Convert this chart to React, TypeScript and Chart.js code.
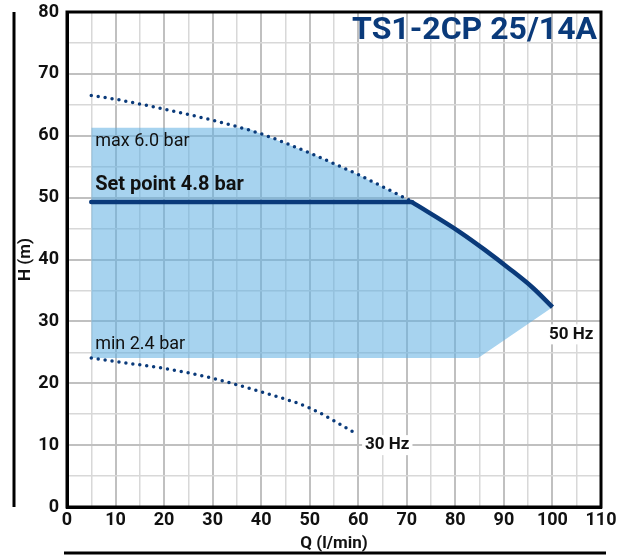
import React, { useEffect, useRef } from 'react';
import { Chart, registerables } from 'chart.js';

Chart.register(...registerables);

// ---- data (Q in l/min, H in m) ----
const maxCurveQ = [5, 10, 20, 30, 40, 50, 60, 71];
const maxCurveH = [66.5, 65.9, 64.3, 62.5, 60.3, 57.2, 53.7, 49.4];

const setPointQ = [5, 71];
const setPointH = [49.3, 49.3];

const curve50Q = [71, 81, 86, 91, 96, 100];
const curve50H = [49.3, 44.4, 41.6, 38.6, 35.4, 32.3];

const minCurveQ = [5, 10, 20, 30, 40, 50, 59.5];
const minCurveH = [24.1, 23.5, 22.4, 20.8, 18.6, 16.0, 11.9];

// shaded operating range: upper and lower boundaries
const rangeTopQ = [5, 37, 40, 50, 60, 71, 81, 86, 91, 96, 100];
const rangeTopH = [61.3, 61.3, 60.3, 57.2, 53.7, 49.3, 44.4, 41.6, 38.6, 35.4, 32.3];
const rangeBottomQ = [5, 84.7, 100];
const rangeBottomH = [24.1, 24.1, 32.3];

const xMin = 0, xMax = 110, yMin = 0, yMax = 80;
const gridStep = 5, labelStep = 10;

const chartTitle = 'TS1-2CP 25/14A';
const xTitle = 'Q (l/min)';
const yTitle = 'H (m)';
const labelMax = 'max 6.0 bar';
const labelSet = 'Set point 4.8 bar';
const labelMin = 'min 2.4 bar';
const label50 = '50 Hz';
const label30 = '30 Hz';

const NAVY = '#0a3a7a';
const FONT = 'Roboto';

const pts = (q: number[], h: number[]) => q.map((v, i) => ({ x: v, y: h[i] }));

const decor = {
  id: 'decor',
  afterDatasetsDraw(chart: any) {
    const ctx = chart.ctx;
    const a = chart.chartArea;
    const px = (v: number) => chart.scales.x.getPixelForValue(v);
    const py = (v: number) => chart.scales.y.getPixelForValue(v);
    ctx.save();
    ctx.setLineDash([]);
    ctx.textBaseline = 'middle';
    ctx.textAlign = 'left';
    ctx.fillStyle = '#111111';
    ctx.font = '18px ' + FONT;
    ctx.fillText(labelMax, px(5.8), py(59.0));
    ctx.fillText(labelMin, px(5.8), py(26.2));
    ctx.font = 'bold 20px ' + FONT;
    ctx.fillText(labelSet, px(5.8), py(52.0));
    ctx.font = 'bold 17px ' + FONT;
    [[label50, 99.3, 27.9], [label30, 61.4, 10.0]].forEach(([t, q, h]: any) => {
      const lx = px(q), ly = py(h);
      const w = ctx.measureText(t).width;
      ctx.fillStyle = '#ffffff';
      ctx.fillRect(lx - 3, ly - 10, w + 6, 20);
      ctx.fillStyle = '#111111';
      ctx.fillText(t, lx, ly);
    });
    ctx.font = 'bold 32px ' + FONT;
    ctx.fillStyle = NAVY;
    ctx.textAlign = 'right';
    ctx.fillText(chartTitle, a.right - 4, a.top + 19);
    ctx.restore();
  },
  afterDraw(chart: any) {
    const ctx = chart.ctx;
    const a = chart.chartArea;
    ctx.save();
    ctx.setLineDash([]);
    ctx.strokeStyle = '#000000';
    ctx.lineWidth = 3;
    ctx.strokeRect(a.left, a.top, a.right - a.left, a.bottom - a.top);
    ctx.beginPath();
    ctx.moveTo(a.left - 53, a.top);
    ctx.lineTo(a.left - 53, a.bottom);
    ctx.moveTo(a.left - 3, a.bottom + 46);
    ctx.lineTo(a.right + 5, a.bottom + 46);
    ctx.stroke();
    ctx.restore();
  },
};

export default function App() {
  const ref = useRef<HTMLCanvasElement | null>(null);
  useEffect(() => {
    if (!ref.current) return;
    const gridColor = (c: any) => (c.tick && c.tick.value % labelStep === 0 ? '#c0c0c0' : '#d8d8d8');
    const gridWidth = (c: any) => (c.tick && c.tick.value % labelStep === 0 ? 2 : 1.5);
    const tickCb = (v: any) => (Number(v) % labelStep === 0 ? String(v) : '');
    const tickFont = { family: FONT, size: 18, weight: 'bold' };
    const titleFont = { family: FONT, size: 17, weight: 'bold' };
    const dotted = (q: number[], h: number[]) => ({
      data: pts(q, h),
      showLine: true,
      borderColor: NAVY,
      borderWidth: 3.5,
      borderDash: [0, 7],
      borderCapStyle: 'round',
      cubicInterpolationMode: 'monotone',
      pointRadius: 0,
      fill: false,
      order: 2,
    });
    const chart = new Chart(ref.current, {
      type: 'scatter',
      data: {
        datasets: [
          {
            data: pts(rangeTopQ, rangeTopH),
            showLine: true,
            borderWidth: 0,
            pointRadius: 0,
            backgroundColor: 'rgba(95,175,225,0.55)',
            fill: '+1',
            order: 10,
          } as any,
          {
            data: pts(rangeBottomQ, rangeBottomH),
            showLine: true,
            borderWidth: 0,
            pointRadius: 0,
            fill: false,
            order: 11,
          },
          dotted(maxCurveQ, maxCurveH),
          dotted(minCurveQ, minCurveH),
          {
            data: pts(setPointQ, setPointH),
            showLine: true,
            borderColor: NAVY,
            borderWidth: 4.5,
            borderCapStyle: 'round',
            pointRadius: 0,
            fill: false,
            order: 1,
          },
          {
            data: pts(curve50Q, curve50H),
            showLine: true,
            borderColor: NAVY,
            borderWidth: 4.5,
            cubicInterpolationMode: 'monotone',
            pointRadius: 0,
            fill: false,
            order: 1,
          },
        ],
      },
      options: {
        animation: false,
        responsive: false,
        devicePixelRatio: 1,
        layout: { padding: { top: 12, right: 29, left: 0, bottom: 0 } },
        plugins: { legend: { display: false }, tooltip: { enabled: false } },
        scales: {
          x: {
            type: 'linear',
            min: xMin,
            max: xMax,
            afterFit: (s: any) => { s.height = 49; },
            ticks: { stepSize: gridStep, autoSkip: false, maxRotation: 0, padding: 3, color: '#111111', font: tickFont, callback: tickCb },
            grid: { color: gridColor, lineWidth: gridWidth, drawTicks: false },
            border: { display: true, color: '#000000', width: 3 },
            title: { display: true, text: xTitle, color: '#111111', font: titleFont, padding: { top: 0, bottom: 2 } },
          },
          y: {
            type: 'linear',
            min: yMin,
            max: yMax,
            afterFit: (s: any) => { s.width = 67; s.paddingTop = 0; s.paddingBottom = 0; },
            ticks: { stepSize: gridStep, autoSkip: false, padding: 8, color: '#111111', font: tickFont, callback: tickCb },
            grid: { color: gridColor, lineWidth: gridWidth, drawTicks: false },
            border: { display: true, color: '#000000', width: 3 },
            title: { display: true, text: yTitle, color: '#111111', font: titleFont, padding: { top: 16, bottom: 0 } },
          },
        },
      },
      plugins: [decor],
    } as any);
    return () => chart.destroy();
  }, []);
  return (
    <div style={{ position: 'fixed', left: 0, top: 0, width: 630, height: 556, background: '#ffffff' }}>
      <canvas ref={ref} width={630} height={556} />
    </div>
  );
}
